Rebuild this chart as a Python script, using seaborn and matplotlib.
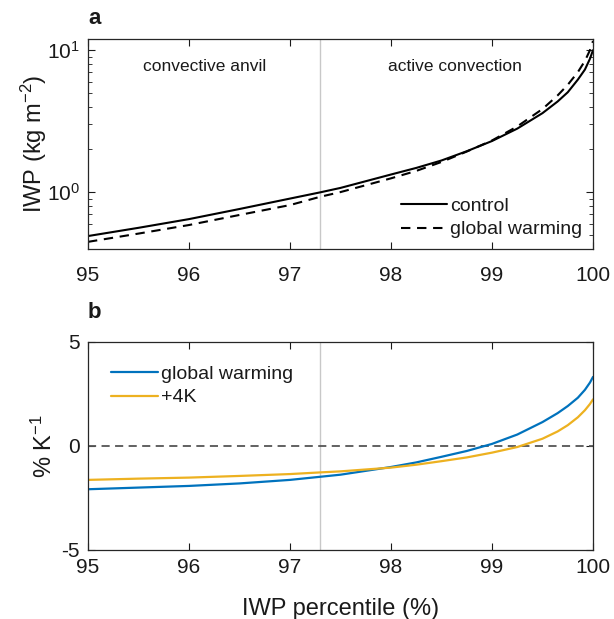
import numpy as np
import pandas as pd
import matplotlib
matplotlib.use("Agg")
import matplotlib.pyplot as plt
from matplotlib.ticker import LogLocator, NullFormatter
import seaborn as sns

# ---------------------------------------------------------------------------
# Data
# ---------------------------------------------------------------------------
pctl = [95, 95.5, 96, 96.5, 97, 97.3, 97.5, 98, 98.25, 98.5, 98.75, 99,
        99.25, 99.5, 99.65, 99.75, 99.85, 99.92, 99.97, 100]

iwp_control = [0.49, 0.56, 0.645, 0.76, 0.90, 0.996, 1.07, 1.33, 1.48, 1.67,
               1.94, 2.29, 2.8, 3.6, 4.35, 5.05, 6.2, 7.3, 8.7, 10.0]
iwp_warming = [0.446, 0.51, 0.586, 0.69, 0.81, 0.927, 1.0, 1.25, 1.41, 1.63,
               1.93, 2.31, 2.9, 3.85, 4.8, 5.7, 7.0, 8.4, 10.0, 11.6]

chg_warming = [-2.08, -2.0, -1.92, -1.8, -1.63, -1.48, -1.38, -1.01, -0.79,
               -0.52, -0.24, 0.1, 0.55, 1.15, 1.58, 1.92, 2.32, 2.7, 3.05, 3.32]
chg_4k = [-1.63, -1.57, -1.52, -1.44, -1.35, -1.27, -1.22, -1.04, -0.9,
          -0.73, -0.55, -0.32, -0.05, 0.35, 0.7, 1.0, 1.38, 1.72, 2.02, 2.24]

regime_split = 97.3

df_a = pd.DataFrame({"pctl": pctl * 2,
                     "iwp": iwp_control + iwp_warming,
                     "run": ["control"] * len(pctl) + ["global warming"] * len(pctl)})
df_b = pd.DataFrame({"pctl": pctl * 2,
                     "chg": chg_warming + chg_4k,
                     "run": ["global warming"] * len(pctl) + ["+4K"] * len(pctl)})

# ---------------------------------------------------------------------------
# Figure
# ---------------------------------------------------------------------------
sns.set_theme(style="ticks")
plt.rcParams["font.family"] = ["Liberation Sans", "DejaVu Sans"]
plt.rcParams["mathtext.fontset"] = "custom"
plt.rcParams["mathtext.rm"] = "Liberation Sans"
plt.rcParams["mathtext.it"] = "Liberation Sans"
plt.rcParams["mathtext.default"] = "regular"
plt.rcParams["axes.unicode_minus"] = False
plt.rcParams["xtick.direction"] = "in"
plt.rcParams["ytick.direction"] = "in"
plt.rcParams["text.color"] = "#1a1a1a"
plt.rcParams["axes.labelcolor"] = "#1a1a1a"

fig = plt.figure(figsize=(6.14, 6.19), dpi=100)
ax1 = fig.add_axes([0.1433, 0.5977, 0.8225, 0.339])
ax2 = fig.add_axes([0.1433, 0.1115, 0.8225, 0.336])

# panel a
ax1.axvline(regime_split, color="#c8c8c8", lw=1, zorder=0)
sns.lineplot(data=df_a, x="pctl", y="iwp", hue="run", style="run",
             palette=["black", "black"], dashes=[(None, None), (4.5, 3.2)],
             linewidth=1.5, ax=ax1)
ax1.set_yscale("log")
ax1.set_xlim(95, 100)
ax1.set_ylim(0.397, 11.95)
ax1.set_xticks([95, 96, 97, 98, 99, 100])
ax1.yaxis.set_major_locator(LogLocator(base=10, numticks=5))
ax1.yaxis.set_minor_locator(LogLocator(base=10, subs=np.arange(2, 10), numticks=20))
ax1.yaxis.set_minor_formatter(NullFormatter())
ax1.set_xlabel("")
ax1.set_ylabel("IWP (kg m$^{-2}$)", fontsize=17, labelpad=-2)
ax1.text(0.23, 0.87, "convective anvil", transform=ax1.transAxes,
         ha="center", va="center", fontsize=12.5)
ax1.text(0.727, 0.87, "active convection", transform=ax1.transAxes,
         ha="center", va="center", fontsize=12.5)
ax1.legend(loc="lower right", bbox_to_anchor=(1.0, 0.0), frameon=False,
           fontsize=14, handlelength=2.4, handletextpad=0.15,
           labelspacing=0.3, borderaxespad=0.15)
ax1.text(0.0, 1.10, "a", transform=ax1.transAxes, fontsize=16,
         fontweight="bold", ha="left", va="center")

# panel b
ax2.axvline(regime_split, color="#c8c8c8", lw=1, zorder=0)
ax2.axhline(0, color="#555555", lw=1.3, ls=(0, (4.5, 3)), zorder=1)
sns.lineplot(data=df_b, x="pctl", y="chg", hue="run",
             palette=["#0072BD", "#EDB120"], linewidth=1.6, ax=ax2)
ax2.set_xlim(95, 100)
ax2.set_ylim(-5, 5)
ax2.set_xticks([95, 96, 97, 98, 99, 100])
ax2.set_yticks([-5, 0, 5])
ax2.set_xlabel("IWP percentile (%)", fontsize=17, labelpad=15)
ax2.set_ylabel("% K$^{-1}$", fontsize=17, labelpad=3)
ax2.legend(loc="upper left", bbox_to_anchor=(0.0, 1.0), frameon=False,
           fontsize=14, handlelength=2.4, handletextpad=0.15,
           labelspacing=0.3, borderaxespad=0.8)
ax2.text(0.0, 1.144, "b", transform=ax2.transAxes, fontsize=16,
         fontweight="bold", ha="left", va="center")

for ax in (ax1, ax2):
    ax.tick_params(which="both", top=True, right=True, labelsize=15,
                   colors="#1a1a1a")
    ax.tick_params(which="major", length=5, width=0.8, pad=6)
    ax.tick_params(which="minor", length=3, width=0.6)
    for s in ax.spines.values():
        s.set_color("#262626")
        s.set_linewidth(0.9)
ax1.tick_params(axis="x", pad=12)

fig.savefig("out.png", dpi=100)
